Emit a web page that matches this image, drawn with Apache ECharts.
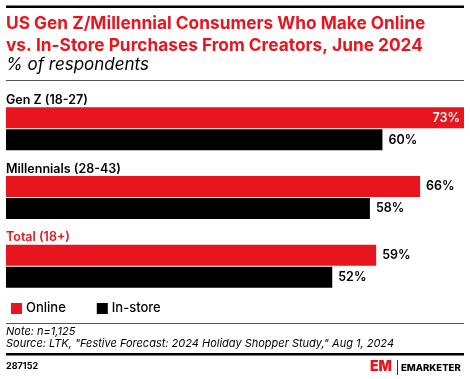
<!DOCTYPE html>
<html><head><meta charset="utf-8">
<script src="https://cdn.jsdelivr.net/npm/echarts@6/dist/echarts.min.js"></script>
<style>html,body{margin:0;padding:0;background:#fff}#c{width:470px;height:379px}</style>
</head><body><div id="c"></div>
<script>
const categories = ['Gen Z (18-27)', 'Millennials (28-43)', 'Total (18+)'];
const onlineValues = [73, 66, 59];
const instoreValues = [60, 58, 52];
const seriesNames = ['Online', 'In-store'];
const titleLines = ['US Gen Z/Millennial Consumers Who Make Online', 'vs. In-Store Purchases From Creators, June 2024'];
const subtitle = '% of respondents';
const noteText = 'Note: n=1,125';
const sourceText = 'Source: LTK, "Festive Forecast: 2024 Holiday Shopper Study," Aug 1, 2024';
const chartId = '287152';

const RED = '#e8141e';
const FONT = 'Inter, "Noto Sans", sans-serif';
const chart = echarts.init(document.getElementById('c'), null, {renderer: 'canvas'});
chart.setOption({
  animation: false,
  textStyle: {fontFamily: FONT},
  grid: {left: 6, right: 6, top: 94.5, bottom: 78.5, containLabel: false},
  xAxis: {type: 'value', min: 0, max: 73, show: false},
  yAxis: {
    type: 'category', data: categories, inverse: true,
    axisLine: {show: false}, axisTick: {show: false}, splitLine: {show: false},
    axisLabel: {
      inside: true, align: 'left', verticalAlign: 'middle', margin: 0,
      padding: [0, 0, 57, 0],
      fontFamily: FONT, fontSize: 12.5, fontWeight: 600,
      formatter: (v) => v.indexOf('Total') === 0 ? '{r|' + v + '}' : '{k|' + v + '}',
      rich: {
        r: {color: RED, fontFamily: FONT, fontSize: 12.5, fontWeight: 600},
        k: {color: '#000', fontFamily: FONT, fontSize: 12.5, fontWeight: 600}
      }
    }
  },
  legend: {
    left: 6, top: 297, itemWidth: 11, itemHeight: 11, itemGap: 31, icon: 'rect',
    data: seriesNames,
    textStyle: {fontFamily: FONT, fontSize: 13, fontWeight: 500, color: '#000', padding: [0, 0, 0, -1]}
  },
  series: [
    {
      name: seriesNames[0], type: 'bar', barWidth: 21, barGap: '5%',
      data: onlineValues.map((v, i) => i === 0 ? {value: v, label: {position: 'insideRight', color: '#fff', distance: 4}} : v),
      itemStyle: {color: RED},
      label: {
        show: true, fontFamily: FONT, fontSize: 12.5, fontWeight: 600, formatter: '{c}%',
        position: 'right', distance: 6, color: '#000'
      }
    },
    {
      name: seriesNames[1], type: 'bar', data: instoreValues, barWidth: 21,
      itemStyle: {color: '#000'},
      label: {
        show: true, fontFamily: FONT, fontSize: 12.5, fontWeight: 600, formatter: '{c}%',
        position: 'right', distance: 6, color: '#000'
      }
    }
  ],
  graphic: [
    {type: 'rect', shape: {x: 6, y: 5.5, width: 458, height: 2.5}, style: {fill: '#000'}},
    {type: 'text', left: 6, top: 13, style: {text: titleLines.join('\n'), font: '700 17.3px ' + FONT, fill: RED, lineHeight: 22}},
    {type: 'text', left: 6, top: 56, style: {text: subtitle, font: 'italic 400 17px ' + FONT, fill: '#000'}},
    {type: 'rect', shape: {x: 6, y: 80, width: 458, height: 1}, style: {fill: '#555'}},
    {type: 'rect', shape: {x: 6, y: 323, width: 458, height: 1}, style: {fill: '#555'}},
    {type: 'text', left: 6, top: 326, style: {text: noteText + '\n' + sourceText, font: 'italic 400 11px ' + FONT, fill: '#000', lineHeight: 12}},
    {type: 'rect', shape: {x: 6, y: 353, width: 458, height: 2.5}, style: {fill: '#000'}},
    {type: 'text', left: 6, top: 362, style: {text: chartId, font: '700 9px ' + FONT, fill: '#000'}},
    {type: 'text', left: 370, top: 360, style: {text: 'EM', font: '900 14px ' + FONT, fill: RED}},
    {type: 'rect', shape: {x: 397, y: 360, width: 1, height: 15}, style: {fill: '#333'}},
    {type: 'text', left: 401, top: 363, style: {text: 'EMARKETER', font: '800 9.5px ' + FONT, fill: '#000'}}
  ]
});
</script></body></html>
